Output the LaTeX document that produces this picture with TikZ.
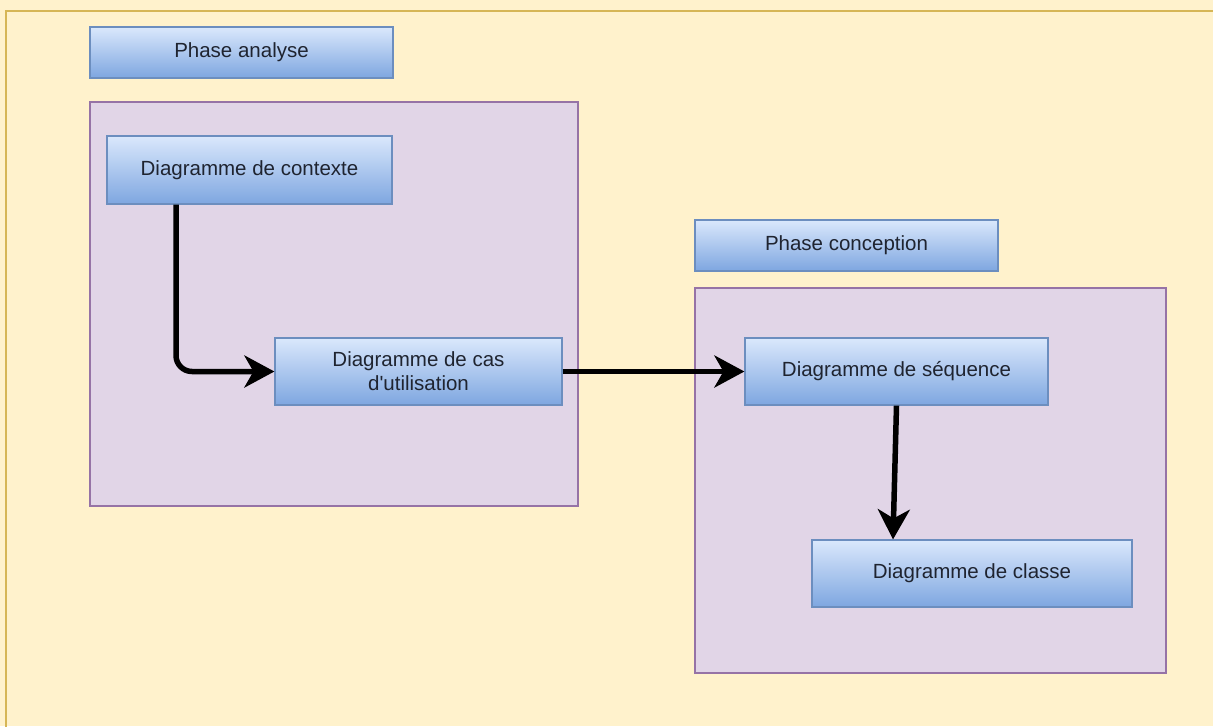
\documentclass[tikz,border=0pt]{standalone}
\usepackage{fontspec}
\setmainfont{Liberation Sans}
\usetikzlibrary{arrows.meta}
\definecolor{pagebg}{HTML}{FFF2CC}
\definecolor{pageline}{HTML}{D6B656}
\definecolor{groupfill}{HTML}{E1D5E7}
\definecolor{groupline}{HTML}{9673A6}
\definecolor{boxtop}{HTML}{DAE8FC}
\definecolor{boxbottom}{HTML}{7EA6E0}
\definecolor{boxline}{HTML}{6C8EBF}
\definecolor{ink}{HTML}{1F2430}
\tikzset{
  group/.style={draw=groupline, fill=groupfill, line width=1.2pt},
  stagebox/.style={draw=boxline, line width=1.2pt, top color=boxtop, bottom color=boxbottom,
    text=ink, align=center, inner sep=0pt,
    font=\fontsize{20.5}{24}\selectfont},
  flow/.style={line width=5.5pt, draw=black,
    -{Stealth[length=30pt, width=32pt, inset=9pt]}}
}
\begin{document}
\begin{tikzpicture}[x=1pt, y=-1pt]
\useasboundingbox (0,0) rectangle (1213,726);
% page background
\fill[pagebg] (0,0) rectangle (1213,726);
\draw[pageline, line width=1.5pt] (1220,11) -- (6,11) -- (6,735);
% phase containers
\draw[group] (90,102) rectangle (578,506);
\draw[group] (695,288) rectangle (1166,673);
% phase titles
\node[stagebox, minimum width=303pt, minimum height=51pt] (pa) at (241.5,52.5) {Phase analyse};
\node[stagebox, minimum width=303pt, minimum height=51pt] (pc) at (846.5,245.5) {Phase conception};
% diagram steps
\node[stagebox, minimum width=285pt, minimum height=68pt] (ctx) at (249.5,170) {Diagramme de contexte};
\node[stagebox, minimum width=287pt, minimum height=67pt] (cas) at (418.5,371.5) {Diagramme de cas\\d\textquotesingle utilisation};
\node[stagebox, minimum width=303pt, minimum height=67pt] (seq) at (896.5,371.5) {Diagramme de séquence};
\node[stagebox, minimum width=320pt, minimum height=67pt] (cls) at (972,573.5) {Diagramme de classe};
% flow between diagrams
\draw[flow, rounded corners=16pt] ([xshift=-73.5pt]ctx.south) |- (cas.west);
\draw[flow] (cas.east) -- (seq.west);
\draw[flow] (seq.south) -- ([xshift=-79pt]cls.north);
\end{tikzpicture}
\end{document}
